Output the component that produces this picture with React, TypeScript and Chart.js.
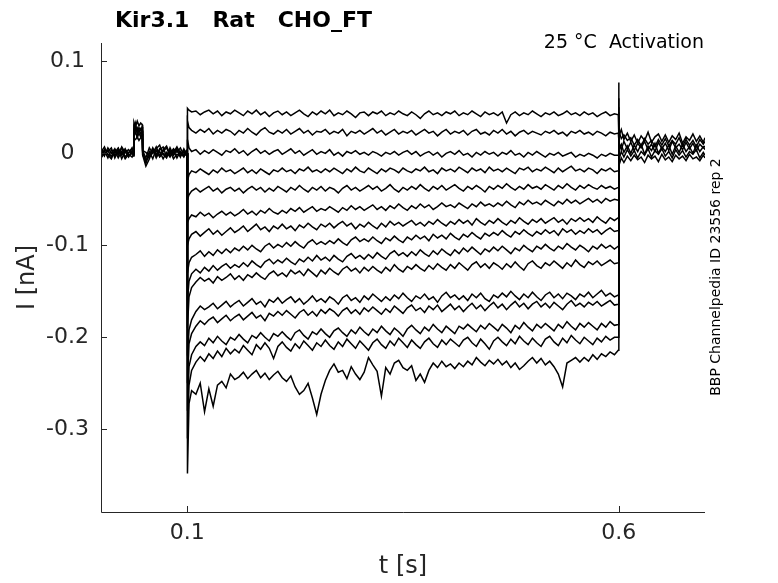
import { useEffect, useRef } from "react";
import { Chart, registerables } from "chart.js";

Chart.register(...registerables);

// ---------- text ----------
const chartTitle = "Kir3.1   Rat   CHO_FT";
const conditionText = "25 °C  Activation";
const sideNote = "BBP Channelpedia ID 23556 rep 2";
const xAxisTitle = "t [s]";
const yAxisTitle = "I [nA]";

// ---------- axes ----------
const xMin = 0;
const xMax = 0.7;
const yMin = -0.39;
const yMax = 0.12;
const xTickValues = [0.1, 0.6];
const xTickLabels = ["0.1", "0.6"];
const yTickValues = [-0.3, -0.2, -0.1, 0, 0.1];
const yTickLabels = ["-0.3", "-0.2", "-0.1", "0", "0.1"];

// ---------- holding period before the pulse (sweeps overlap here) ----------
const preTimes = [
  0, 0.004, 0.008, 0.012, 0.016, 0.02, 0.024, 0.028, 0.032, 0.036,
  0.0378, 0.0382, 0.04, 0.042, 0.044, 0.046, 0.0478, 0.0483,
  0.052, 0.056, 0.06, 0.064, 0.068, 0.072, 0.076, 0.08, 0.084, 0.088,
  0.092, 0.096, 0.0995,
];
const preBand1 = [0.004, -0.003, 0.006, 0.0, 0.005, -0.002, 0.007, 0.001, 0.004, -0.001, 0.002, 0.034, 0.029, 0.035, 0.03, 0.033, 0.031, 0.003, -0.005, 0.006, 0.0, 0.007, -0.003, 0.004, 0.008, -0.001, 0.005, 0.001, 0.006, -0.002, 0.004];
const preBand2 = [-0.004, 0.003, -0.005, 0.004, -0.003, 0.005, -0.006, 0.002, -0.004, 0.003, -0.003, 0.026, 0.03, 0.024, 0.028, 0.025, 0.029, -0.002, -0.014, -0.006, 0.004, -0.005, 0.002, -0.006, 0.001, -0.004, 0.004, -0.005, 0.002, -0.003, 0.0];
const preBand3 = [0.001, 0.007, -0.002, -0.006, 0.003, 0.0, 0.006, -0.004, 0.001, 0.005, 0.0, 0.019, 0.023, 0.017, 0.022, 0.018, 0.021, 0.001, -0.009, 0.002, -0.006, 0.005, 0.009, -0.001, -0.005, 0.006, -0.002, 0.004, -0.004, 0.005, -0.002];
const preBand4 = [-0.002, 0.004, 0.002, 0.006, -0.005, 0.003, 0.0, 0.005, -0.003, 0.001, -0.002, 0.016, 0.015, 0.018, 0.014, 0.017, 0.016, 0.003, 0.001, -0.003, 0.006, -0.001, 0.004, 0.007, -0.004, 0.003, -0.002, 0.006, 0.001, -0.004, 0.003];
const preBand5 = [0.006, -0.001, 0.003, -0.004, 0.001, 0.006, -0.002, 0.004, 0.0, 0.006, 0.001, 0.029, 0.025, 0.028, 0.023, 0.027, 0.024, 0.001, -0.011, 0.0, 0.004, -0.003, 0.005, 0.002, 0.006, -0.003, 0.001, 0.007, -0.001, 0.003, 0.001];
const preBand6 = [-0.005, 0.0, -0.001, -0.003, 0.003, -0.005, 0.002, -0.006, -0.001, -0.004, -0.001, 0.022, 0.032, 0.02, 0.026, 0.021, 0.025, -0.002, -0.007, -0.004, 0.001, 0.003, -0.004, 0.0, -0.002, 0.003, -0.006, -0.001, -0.003, 0.002, -0.003];

// ---------- test pulse 0.1 s .. 0.6 s ----------
const stepTimes = [
  0.1, 0.1002, 0.102, 0.105,
  0.11, 0.115, 0.12, 0.125, 0.13, 0.135, 0.14, 0.145, 0.15, 0.155,
  0.16, 0.165, 0.17, 0.175, 0.18, 0.185, 0.19, 0.195, 0.2, 0.205,
  0.21, 0.215, 0.22, 0.225, 0.23, 0.235, 0.24, 0.245, 0.25, 0.255,
  0.26, 0.265, 0.27, 0.275, 0.28, 0.285, 0.29, 0.295, 0.3, 0.305,
  0.31, 0.315, 0.32, 0.325, 0.33, 0.335, 0.34, 0.345, 0.35, 0.355,
  0.36, 0.365, 0.37, 0.375, 0.38, 0.385, 0.39, 0.395, 0.4, 0.405,
  0.41, 0.415, 0.42, 0.425, 0.43, 0.435, 0.44, 0.445, 0.45, 0.455,
  0.46, 0.465, 0.47, 0.475, 0.48, 0.485, 0.49, 0.495, 0.5, 0.505,
  0.51, 0.515, 0.52, 0.525, 0.53, 0.535, 0.54, 0.545, 0.55, 0.555,
  0.56, 0.565, 0.57, 0.575, 0.58, 0.585, 0.59, 0.595,
  0.5995, 0.6, 0.6003,
];
const sweep1 = [
  0.001, 0.049, 0.047, 0.045,
  0.046, 0.042, 0.045, 0.047, 0.043, 0.046, 0.041, 0.045, 0.043, 0.047,
  0.044, 0.041, 0.046, 0.043, 0.047, 0.042, 0.045, 0.04, 0.044, 0.046,
  0.042, 0.045, 0.041, 0.044, 0.047, 0.043, 0.04, 0.045, 0.042, 0.046,
  0.043, 0.047, 0.041, 0.044, 0.042, 0.046, 0.043, 0.039, 0.044, 0.045,
  0.041, 0.045, 0.043, 0.046, 0.041, 0.044, 0.042, 0.046, 0.043, 0.041,
  0.045, 0.042, 0.038, 0.043, 0.046, 0.042, 0.044, 0.041, 0.045, 0.043,
  0.046, 0.041, 0.044, 0.042, 0.046, 0.043, 0.04, 0.045, 0.042, 0.044,
  0.041, 0.045, 0.033, 0.042, 0.045, 0.041, 0.044, 0.042, 0.046, 0.043,
  0.04, 0.044, 0.042, 0.045, 0.041, 0.043, 0.046, 0.042, 0.044, 0.041,
  0.045, 0.042, 0.044, 0.04, 0.043, 0.045, 0.041, 0.043,
  0.042, 0.077, 0.018,
];
const sweep2 = [
  0.001, 0.035, 0.028, 0.025,
  0.022, 0.026, 0.023, 0.027, 0.021, 0.025, 0.022, 0.026, 0.024, 0.02,
  0.025, 0.022, 0.027, 0.023, 0.02, 0.025, 0.028, 0.023, 0.021, 0.025,
  0.022, 0.026, 0.021, 0.024, 0.027, 0.022, 0.025, 0.02, 0.024, 0.023,
  0.026, 0.021, 0.024, 0.022, 0.026, 0.019, 0.024, 0.022, 0.025, 0.021,
  0.024, 0.027, 0.022, 0.025, 0.02, 0.023, 0.026, 0.021, 0.024, 0.022,
  0.025, 0.02, 0.023, 0.026, 0.022, 0.024, 0.019, 0.023, 0.026, 0.021,
  0.024, 0.022, 0.025, 0.02, 0.024, 0.026, 0.021, 0.023, 0.02, 0.025,
  0.022, 0.026, 0.021, 0.024, 0.019, 0.023, 0.025, 0.021, 0.024, 0.022,
  0.02, 0.024, 0.022, 0.025, 0.021, 0.023, 0.019, 0.024, 0.022, 0.025,
  0.021, 0.023, 0.02, 0.024, 0.022, 0.019, 0.023, 0.021,
  0.022, 0.06, 0.015,
];
const sweep3 = [
  0.0, 0.015, 0.006, 0.002,
  0.004, -0.001, 0.003, 0.0, 0.004, 0.001, -0.002, 0.003, 0.001, 0.005,
  0.0, 0.003, -0.002, 0.002, 0.005, 0.0, 0.003, -0.001, 0.002, 0.004,
  -0.001, 0.002, 0.005, 0.0, 0.003, -0.002, 0.001, 0.004, -0.001, 0.002,
  0.0, 0.004, -0.002, 0.001, -0.003, 0.002, 0.0, 0.003, -0.001, 0.001,
  -0.002, 0.002, 0.0, -0.003, 0.001, -0.001, 0.002, -0.002, 0.001, 0.003,
  -0.001, 0.002, -0.003, 0.0, 0.002, -0.002, 0.001, -0.004, 0.0, 0.002,
  -0.001, 0.003, -0.002, 0.0, -0.004, 0.001, -0.002, 0.002, -0.001, 0.001,
  -0.003, 0.001, -0.001, 0.003, -0.002, 0.0, -0.004, 0.001, -0.002, 0.002,
  -0.001, -0.004, 0.0, -0.002, 0.001, -0.003, -0.001, 0.001, -0.004, -0.001,
  -0.003, 0.0, -0.002, -0.005, -0.001, -0.003, 0.0, -0.002,
  -0.002, 0.05, 0.012,
];
const sweep4 = [
  0.0, -0.03, -0.023, -0.019,
  -0.021, -0.017, -0.02, -0.023, -0.018, -0.021, -0.016, -0.02, -0.018, -0.022,
  -0.019, -0.016, -0.021, -0.018, -0.022, -0.017, -0.02, -0.023, -0.018, -0.02,
  -0.016, -0.02, -0.018, -0.022, -0.017, -0.019, -0.015, -0.02, -0.018, -0.021,
  -0.017, -0.02, -0.016, -0.019, -0.022, -0.017, -0.02, -0.015, -0.019, -0.021,
  -0.016, -0.019, -0.022, -0.017, -0.02, -0.016, -0.018, -0.021, -0.016, -0.019,
  -0.021, -0.017, -0.019, -0.015, -0.02, -0.018, -0.022, -0.016, -0.019, -0.017,
  -0.02, -0.015, -0.018, -0.021, -0.016, -0.019, -0.017, -0.021, -0.015, -0.019,
  -0.017, -0.02, -0.016, -0.019, -0.022, -0.016, -0.018, -0.015, -0.02, -0.017,
  -0.019, -0.015, -0.018, -0.021, -0.016, -0.02, -0.017, -0.014, -0.019, -0.017,
  -0.02, -0.016, -0.018, -0.022, -0.017, -0.019, -0.016, -0.02,
  -0.019, 0.045, 0.01,
];
const sweep5 = [
  0.0, -0.05, -0.045, -0.041,
  -0.038, -0.042, -0.039, -0.036, -0.041, -0.038, -0.043, -0.039, -0.037, -0.041,
  -0.038, -0.043, -0.039, -0.036, -0.04, -0.037, -0.042, -0.038, -0.041, -0.036,
  -0.039, -0.042, -0.037, -0.04, -0.035, -0.039, -0.042, -0.037, -0.04, -0.036,
  -0.041, -0.037, -0.039, -0.043, -0.038, -0.035, -0.04, -0.037, -0.041, -0.038,
  -0.035, -0.039, -0.036, -0.041, -0.038, -0.034, -0.039, -0.042, -0.037, -0.04,
  -0.036, -0.039, -0.034, -0.038, -0.041, -0.036, -0.039, -0.035, -0.04, -0.037,
  -0.034, -0.038, -0.041, -0.036, -0.039, -0.035, -0.038, -0.042, -0.036, -0.039,
  -0.035, -0.038, -0.033, -0.037, -0.04, -0.036, -0.039, -0.034, -0.038, -0.036,
  -0.039, -0.034, -0.037, -0.04, -0.035, -0.038, -0.033, -0.037, -0.04, -0.035,
  -0.038, -0.034, -0.037, -0.039, -0.035, -0.038, -0.036, -0.039,
  -0.037, 0.04, 0.008,
];
const sweep6 = [
  0.0, -0.075, -0.071, -0.067,
  -0.069, -0.064, -0.068, -0.065, -0.07, -0.066, -0.063, -0.067, -0.064, -0.068,
  -0.065, -0.061, -0.066, -0.063, -0.067, -0.062, -0.065, -0.06, -0.064, -0.066,
  -0.062, -0.065, -0.06, -0.063, -0.059, -0.064, -0.061, -0.058, -0.063, -0.06,
  -0.062, -0.058, -0.061, -0.064, -0.059, -0.062, -0.057, -0.061, -0.058, -0.062,
  -0.059, -0.056, -0.061, -0.058, -0.062, -0.057, -0.06, -0.055, -0.059, -0.062,
  -0.057, -0.06, -0.055, -0.059, -0.056, -0.061, -0.058, -0.054, -0.058, -0.056,
  -0.059, -0.054, -0.057, -0.06, -0.055, -0.058, -0.053, -0.057, -0.055, -0.058,
  -0.054, -0.057, -0.052, -0.056, -0.059, -0.053, -0.056, -0.051, -0.055, -0.053,
  -0.056, -0.051, -0.054, -0.057, -0.052, -0.055, -0.05, -0.054, -0.051, -0.055,
  -0.052, -0.049, -0.053, -0.05, -0.054, -0.049, -0.052, -0.05,
  -0.051, 0.035, 0.006,
];
const sweep7 = [
  0.0, -0.1, -0.093, -0.088,
  -0.085, -0.09, -0.086, -0.082, -0.088, -0.084, -0.089, -0.085, -0.081, -0.086,
  -0.083, -0.079, -0.085, -0.081, -0.077, -0.083, -0.08, -0.085, -0.079, -0.082,
  -0.077, -0.082, -0.079, -0.084, -0.078, -0.081, -0.076, -0.08, -0.083, -0.077,
  -0.08, -0.076, -0.081, -0.077, -0.074, -0.079, -0.076, -0.082, -0.077, -0.08,
  -0.075, -0.079, -0.082, -0.076, -0.08, -0.074, -0.078, -0.075, -0.079, -0.076,
  -0.073, -0.078, -0.075, -0.079, -0.074, -0.077, -0.072, -0.076, -0.079, -0.074,
  -0.077, -0.072, -0.076, -0.073, -0.078, -0.071, -0.075, -0.078, -0.073, -0.076,
  -0.071, -0.075, -0.078, -0.073, -0.076, -0.07, -0.074, -0.077, -0.072, -0.075,
  -0.071, -0.076, -0.073, -0.07, -0.075, -0.072, -0.077, -0.071, -0.074, -0.07,
  -0.074, -0.071, -0.075, -0.069, -0.073, -0.076, -0.07, -0.073,
  -0.07, 0.03, 0.005,
];
const sweep8 = [
  0.0, -0.13, -0.119, -0.113,
  -0.11, -0.106, -0.112, -0.107, -0.111, -0.105, -0.109, -0.104, -0.108, -0.103,
  -0.106, -0.101, -0.105, -0.1, -0.104, -0.107, -0.101, -0.098, -0.103, -0.099,
  -0.102, -0.097, -0.101, -0.096, -0.1, -0.103, -0.097, -0.094, -0.099, -0.096,
  -0.099, -0.095, -0.098, -0.093, -0.097, -0.1, -0.094, -0.091, -0.096, -0.093,
  -0.096, -0.091, -0.095, -0.098, -0.092, -0.095, -0.09, -0.094, -0.097, -0.091,
  -0.094, -0.089, -0.093, -0.09, -0.095, -0.088, -0.092, -0.089, -0.093, -0.087,
  -0.091, -0.094, -0.088, -0.091, -0.086, -0.09, -0.093, -0.087, -0.09, -0.086,
  -0.089, -0.084, -0.088, -0.091, -0.085, -0.088, -0.083, -0.087, -0.09, -0.085,
  -0.088, -0.083, -0.087, -0.084, -0.089, -0.082, -0.086, -0.083, -0.088, -0.084,
  -0.087, -0.082, -0.086, -0.083, -0.088, -0.084, -0.081, -0.085,
  -0.084, 0.025, 0.004,
];
const sweep9 = [
  0.0, -0.16, -0.139, -0.131,
  -0.126, -0.13, -0.124, -0.128, -0.122, -0.127, -0.123, -0.12, -0.125, -0.121,
  -0.124, -0.119, -0.123, -0.117, -0.121, -0.124, -0.118, -0.115, -0.12, -0.116,
  -0.119, -0.114, -0.118, -0.121, -0.115, -0.118, -0.113, -0.117, -0.111, -0.116,
  -0.113, -0.117, -0.111, -0.115, -0.118, -0.112, -0.109, -0.114, -0.111, -0.115,
  -0.11, -0.114, -0.108, -0.112, -0.115, -0.109, -0.106, -0.111, -0.108, -0.112,
  -0.107, -0.111, -0.105, -0.109, -0.112, -0.106, -0.11, -0.104, -0.108, -0.111,
  -0.105, -0.109, -0.103, -0.107, -0.102, -0.106, -0.11, -0.104, -0.107, -0.102,
  -0.106, -0.101, -0.105, -0.109, -0.103, -0.106, -0.1, -0.104, -0.107, -0.101,
  -0.104, -0.099, -0.103, -0.106, -0.101, -0.104, -0.098, -0.102, -0.105, -0.1,
  -0.103, -0.107, -0.101, -0.104, -0.099, -0.103, -0.1, -0.104,
  -0.101, 0.02, 0.004,
];
const sweep10 = [
  0.0, -0.19, -0.156, -0.146,
  -0.14, -0.135, -0.139, -0.136, -0.141, -0.134, -0.138, -0.135, -0.131, -0.137,
  -0.133, -0.138, -0.132, -0.135, -0.13, -0.134, -0.137, -0.131, -0.128, -0.133,
  -0.13, -0.134, -0.127, -0.131, -0.128, -0.133, -0.126, -0.13, -0.134, -0.127,
  -0.131, -0.125, -0.129, -0.132, -0.126, -0.123, -0.128, -0.125, -0.13, -0.124,
  -0.128, -0.123, -0.127, -0.13, -0.124, -0.128, -0.121, -0.126, -0.129, -0.123,
  -0.126, -0.121, -0.125, -0.128, -0.122, -0.126, -0.12, -0.124, -0.127, -0.121,
  -0.125, -0.119, -0.123, -0.127, -0.121, -0.118, -0.124, -0.12, -0.125, -0.119,
  -0.122, -0.126, -0.12, -0.124, -0.118, -0.123, -0.127, -0.12, -0.117, -0.122,
  -0.125, -0.119, -0.122, -0.117, -0.121, -0.125, -0.119, -0.123, -0.116, -0.121,
  -0.124, -0.118, -0.121, -0.117, -0.122, -0.119, -0.116, -0.12,
  -0.119, 0.02, 0.003,
];
const sweep11 = [
  0.0, -0.22, -0.192, -0.181,
  -0.172, -0.166, -0.17, -0.167, -0.163, -0.169, -0.165, -0.161, -0.167, -0.163,
  -0.16, -0.166, -0.162, -0.158, -0.164, -0.161, -0.167, -0.159, -0.162, -0.157,
  -0.163, -0.159, -0.156, -0.162, -0.158, -0.164, -0.16, -0.155, -0.161, -0.158,
  -0.162, -0.156, -0.159, -0.164, -0.157, -0.154, -0.16, -0.157, -0.162, -0.155,
  -0.159, -0.153, -0.157, -0.161, -0.156, -0.16, -0.154, -0.158, -0.152, -0.157,
  -0.161, -0.155, -0.158, -0.153, -0.159, -0.156, -0.162, -0.155, -0.151, -0.157,
  -0.154, -0.159, -0.155, -0.16, -0.153, -0.157, -0.152, -0.158, -0.161, -0.154,
  -0.157, -0.152, -0.156, -0.15, -0.155, -0.159, -0.153, -0.157, -0.151, -0.156,
  -0.16, -0.154, -0.151, -0.157, -0.153, -0.158, -0.152, -0.155, -0.159, -0.153,
  -0.156, -0.151, -0.157, -0.153, -0.149, -0.155, -0.152, -0.156,
  -0.154, 0.015, 0.002,
];
const sweep12 = [
  0.0, -0.25, -0.207, -0.196,
  -0.188, -0.182, -0.186, -0.181, -0.178, -0.184, -0.18, -0.176, -0.182, -0.178,
  -0.175, -0.181, -0.177, -0.173, -0.179, -0.176, -0.182, -0.174, -0.177, -0.172,
  -0.176, -0.171, -0.175, -0.179, -0.173, -0.17, -0.176, -0.172, -0.177, -0.17,
  -0.174, -0.169, -0.172, -0.177, -0.171, -0.168, -0.174, -0.17, -0.175, -0.168,
  -0.172, -0.167, -0.171, -0.175, -0.169, -0.173, -0.166, -0.17, -0.174, -0.168,
  -0.165, -0.171, -0.168, -0.173, -0.166, -0.17, -0.165, -0.172, -0.168, -0.164,
  -0.17, -0.166, -0.172, -0.167, -0.163, -0.169, -0.165, -0.171, -0.166, -0.162,
  -0.168, -0.164, -0.17, -0.165, -0.161, -0.167, -0.163, -0.169, -0.164, -0.161,
  -0.167, -0.163, -0.168, -0.162, -0.166, -0.17, -0.164, -0.16, -0.166, -0.163,
  -0.167, -0.162, -0.165, -0.161, -0.166, -0.163, -0.16, -0.165,
  -0.164, 0.012, 0.002,
];
const sweep13 = [
  0.0, -0.28, -0.232, -0.219,
  -0.21, -0.205, -0.209, -0.201, -0.206, -0.199, -0.204, -0.208, -0.2, -0.203,
  -0.197, -0.202, -0.206, -0.198, -0.201, -0.195, -0.2, -0.204, -0.196, -0.199,
  -0.194, -0.199, -0.203, -0.195, -0.192, -0.198, -0.202, -0.194, -0.197, -0.191,
  -0.196, -0.2, -0.193, -0.19, -0.195, -0.199, -0.192, -0.196, -0.189, -0.194,
  -0.198, -0.191, -0.195, -0.188, -0.193, -0.197, -0.19, -0.194, -0.199, -0.191,
  -0.187, -0.192, -0.196, -0.189, -0.193, -0.186, -0.191, -0.195, -0.188, -0.192,
  -0.196, -0.188, -0.191, -0.186, -0.19, -0.194, -0.187, -0.191, -0.185, -0.189,
  -0.193, -0.186, -0.19, -0.195, -0.187, -0.191, -0.184, -0.189, -0.193, -0.186,
  -0.19, -0.185, -0.189, -0.193, -0.186, -0.19, -0.183, -0.188, -0.192, -0.185,
  -0.189, -0.184, -0.188, -0.192, -0.185, -0.189, -0.183, -0.187,
  -0.186, 0.01, 0.001,
];
const sweep14 = [
  0.0, -0.31, -0.252, -0.236,
  -0.227, -0.221, -0.226, -0.218, -0.223, -0.215, -0.221, -0.212, -0.218, -0.213,
  -0.217, -0.209, -0.214, -0.219, -0.208, -0.213, -0.206, -0.212, -0.223, -0.21,
  -0.205, -0.211, -0.215, -0.207, -0.212, -0.204, -0.209, -0.214, -0.206, -0.21,
  -0.203, -0.209, -0.213, -0.205, -0.21, -0.202, -0.207, -0.212, -0.204, -0.209,
  -0.214, -0.206, -0.202, -0.208, -0.212, -0.204, -0.209, -0.201, -0.206, -0.211,
  -0.203, -0.208, -0.212, -0.205, -0.201, -0.207, -0.211, -0.203, -0.208, -0.202,
  -0.206, -0.21, -0.203, -0.2, -0.206, -0.21, -0.202, -0.207, -0.213, -0.204,
  -0.2, -0.205, -0.209, -0.202, -0.207, -0.199, -0.204, -0.208, -0.201, -0.206,
  -0.21, -0.202, -0.199, -0.205, -0.209, -0.201, -0.206, -0.198, -0.203, -0.207,
  -0.2, -0.204, -0.208, -0.201, -0.205, -0.199, -0.203, -0.2,
  -0.2, 0.008, 0.001,
];
const sweep15 = [
  0.0, -0.348, -0.272, -0.258,
  -0.262, -0.25, -0.281, -0.256, -0.275, -0.252, -0.248, -0.255, -0.24, -0.246,
  -0.243, -0.238, -0.245, -0.24, -0.236, -0.244, -0.239, -0.246, -0.241, -0.237,
  -0.244, -0.248, -0.242, -0.254, -0.262, -0.258, -0.25, -0.266, -0.284, -0.262,
  -0.247, -0.236, -0.229, -0.238, -0.236, -0.245, -0.232, -0.24, -0.246, -0.238,
  -0.222, -0.23, -0.237, -0.264, -0.233, -0.24, -0.228, -0.225, -0.233, -0.236,
  -0.231, -0.247, -0.24, -0.249, -0.236, -0.228, -0.233, -0.226, -0.232, -0.229,
  -0.234, -0.228, -0.232, -0.226, -0.23, -0.222, -0.227, -0.231, -0.225, -0.229,
  -0.224, -0.23, -0.226, -0.233, -0.228, -0.235, -0.231, -0.226, -0.222, -0.228,
  -0.223, -0.23, -0.226, -0.232, -0.24, -0.254, -0.228, -0.225, -0.222, -0.227,
  -0.222, -0.226, -0.219, -0.224, -0.218, -0.221, -0.216, -0.219,
  -0.214, 0.006, 0.0,
];

// ---------- tail after the pulse (sweeps overlap here) ----------
const postTimes = [
  0.6003, 0.603, 0.606,
  0.61, 0.614, 0.618, 0.622, 0.626, 0.63, 0.634, 0.638, 0.642, 0.646,
  0.65, 0.654, 0.658, 0.662, 0.666, 0.67, 0.674, 0.678, 0.682, 0.686,
  0.69, 0.694, 0.698, 0.7,
];
const postBand1 = [0.019, 0.026, 0.015, 0.022, 0.013, 0.02, 0.011, 0.019, 0.014, 0.023, 0.012, 0.018, 0.021, 0.013, 0.02, 0.012, 0.019, 0.015, 0.022, 0.011, 0.018, 0.014, 0.021, 0.013, 0.019, 0.012, 0.017];
const postBand2 = [0.011, 0.004, 0.013, 0.005, 0.012, 0.003, 0.011, 0.006, 0.013, 0.004, 0.01, 0.002, 0.012, 0.005, 0.011, 0.003, 0.013, 0.006, 0.01, 0.004, 0.012, 0.005, 0.011, 0.003, 0.01, 0.006, 0.008];
const postBand3 = [-0.007, 0.002, -0.004, 0.004, -0.003, 0.003, -0.005, 0.002, -0.002, 0.005, -0.004, 0.003, -0.001, 0.005, -0.003, 0.002, -0.005, 0.004, -0.002, 0.003, -0.004, 0.002, -0.001, 0.004, -0.005, 0.001, -0.002];
const postBand4 = [0.005, 0.01, 0.001, 0.008, 0.0, 0.009, 0.002, 0.01, -0.001, 0.008, 0.003, 0.011, 0.0, 0.007, 0.002, 0.009, -0.001, 0.008, 0.001, 0.01, 0.002, 0.007, 0.0, 0.009, 0.002, 0.007, 0.004];
const postBand5 = [-0.013, -0.005, -0.01, -0.003, -0.008, -0.002, -0.007, -0.004, -0.01, -0.002, -0.006, -0.003, -0.009, -0.001, -0.007, -0.004, -0.009, -0.002, -0.006, -0.003, -0.008, -0.001, -0.006, -0.004, -0.008, -0.002, -0.005];
const postBand6 = [0.024, 0.016, 0.02, 0.014, 0.017, 0.009, 0.015, 0.008, 0.016, 0.01, 0.014, 0.007, 0.015, 0.009, 0.016, 0.008, 0.014, 0.01, 0.017, 0.008, 0.015, 0.009, 0.014, 0.007, 0.015, 0.01, 0.013];

const preBands = [preBand1, preBand2, preBand3, preBand4, preBand5, preBand6];
const sweeps = [sweep1, sweep2, sweep3, sweep4, sweep5, sweep6, sweep7, sweep8, sweep9, sweep10, sweep11, sweep12, sweep13, sweep14, sweep15];
const postBands = [postBand1, postBand2, postBand3, postBand4, postBand5, postBand6];

// ---------- styling ----------
const FONT = '"DejaVu Sans", "Liberation Sans", sans-serif';
const AXIS_COLOR = "#262626";
const TRACE_COLOR = "#000000";

const decorPlugin = {
  id: "decor",
  afterDraw(chart: any) {
    const { ctx, chartArea: a, scales } = chart;
    const xs = scales.x;
    const ys = scales.y;
    ctx.save();
    // axis lines (box off) and inward ticks
    ctx.strokeStyle = AXIS_COLOR;
    ctx.lineWidth = 1;
    ctx.beginPath();
    ctx.moveTo(a.left + 0.5, a.top);
    ctx.lineTo(a.left + 0.5, a.bottom + 0.5);
    ctx.lineTo(a.right, a.bottom + 0.5);
    for (const v of yTickValues) {
      const py = Math.round(ys.getPixelForValue(v)) + 0.5;
      ctx.moveTo(a.left, py);
      ctx.lineTo(a.left + 6, py);
    }
    for (const v of xTickValues) {
      const px = Math.round(xs.getPixelForValue(v)) + 0.5;
      ctx.moveTo(px, a.bottom);
      ctx.lineTo(px, a.bottom - 6);
    }
    ctx.stroke();

    // axis titles
    ctx.fillStyle = AXIS_COLOR;
    ctx.font = `24px ${FONT}`;
    ctx.textAlign = "center";
    ctx.textBaseline = "middle";
    ctx.fillText(xAxisTitle, (a.left + a.right) / 2, 567);
    ctx.save();
    ctx.translate(28, (a.top + a.bottom) / 2);
    ctx.rotate(-Math.PI / 2);
    ctx.fillText(yAxisTitle, 0, 0);
    ctx.restore();

    // title
    ctx.fillStyle = "#000";
    ctx.font = `bold 22px ${FONT}`;
    ctx.textAlign = "left";
    ctx.textBaseline = "alphabetic";
    ctx.fillText(chartTitle, 115, 27);

    // condition
    ctx.font = `19px ${FONT}`;
    ctx.textAlign = "right";
    ctx.fillText(conditionText, 704, 48);

    // side note
    ctx.save();
    ctx.font = `14px ${FONT}`;
    ctx.textAlign = "center";
    ctx.textBaseline = "middle";
    ctx.translate(716, 277);
    ctx.rotate(-Math.PI / 2);
    ctx.fillText(sideNote, 0, 0);
    ctx.restore();

    ctx.restore();
  },
};

function toPoints(times: number[], values: number[]) {
  return values.map((v, i) => ({ x: times[i], y: v }));
}

export default function App() {
  const canvasRef = useRef<HTMLCanvasElement | null>(null);

  useEffect(() => {
    const canvas = canvasRef.current;
    if (!canvas) return;
    const lineStyle = {
      borderColor: TRACE_COLOR,
      backgroundColor: TRACE_COLOR,
      borderWidth: 1.5,
      borderJoinStyle: "miter",
      pointRadius: 0,
      pointHoverRadius: 0,
      fill: false,
      tension: 0,
    };
    const datasets: any[] = [];
    preBands.forEach((b, i) => datasets.push({ label: `pre ${i + 1}`, data: toPoints(preTimes, b), ...lineStyle }));
    sweeps.forEach((s, i) => datasets.push({ label: `sweep ${i + 1}`, data: toPoints(stepTimes, s), ...lineStyle }));
    postBands.forEach((b, i) => datasets.push({ label: `post ${i + 1}`, data: toPoints(postTimes, b), ...lineStyle }));

    const chart = new Chart(canvas, {
      type: "line",
      data: { datasets },
      options: {
        animation: false,
        responsive: false,
        events: [],
        layout: { padding: { left: 0, right: 73, top: 43, bottom: 0 } },
        plugins: {
          legend: { display: false },
          title: { display: false },
          tooltip: { enabled: false },
        },
        scales: {
          x: {
            type: "linear",
            min: xMin,
            max: xMax,
            grid: { display: false, drawTicks: false },
            border: { display: false },
            afterBuildTicks: (s: any) => {
              s.ticks = xTickValues.map((v) => ({ value: v }));
            },
            afterFit: (s: any) => {
              s.height = 71;
            },
            ticks: {
              autoSkip: false,
              maxRotation: 0,
              padding: 8,
              color: AXIS_COLOR,
              font: { family: FONT, size: 22 },
              callback: (v: any) => xTickLabels[xTickValues.indexOf(Number(v))] ?? "",
            },
          },
          y: {
            type: "linear",
            min: yMin,
            max: yMax,
            grid: { display: false, drawTicks: false },
            border: { display: false },
            afterBuildTicks: (s: any) => {
              s.ticks = yTickValues.map((v) => ({ value: v }));
            },
            afterFit: (s: any) => {
              s.width = 101;
            },
            ticks: {
              autoSkip: false,
              padding: 12,
              crossAlign: "center",
              color: AXIS_COLOR,
              font: { family: FONT, size: 22 },
              callback: (v: any) => yTickLabels[yTickValues.indexOf(Number(v))] ?? "",
            },
          },
        },
      } as any,
      plugins: [decorPlugin],
    });
    return () => chart.destroy();
  }, []);

  return (
    <div style={{ position: "fixed", left: 0, top: 0, width: 778, height: 583, background: "#ffffff" }}>
      <canvas ref={canvasRef} width={778} height={583} style={{ display: "block", width: 778, height: 583 }} />
    </div>
  );
}
